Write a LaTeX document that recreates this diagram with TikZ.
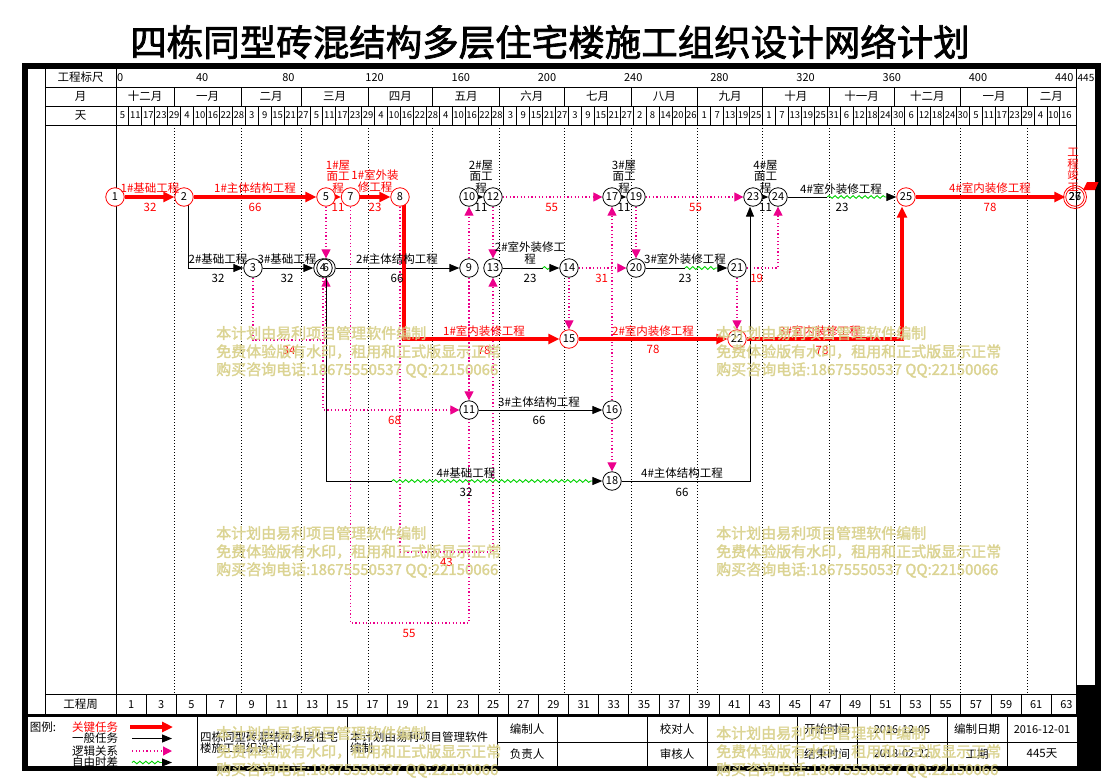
\documentclass[tikz,border=0pt]{standalone}
\usepackage{fontspec}
\setmainfont{Noto Sans CJK SC}
\newfontfamily\boldcjk{Noto Sans CJK SC}[FakeBold=2]
\usetikzlibrary{arrows.meta,decorations.pathmorphing}
\newcommand\fsz[1]{\fontsize{#1}{#1}\selectfont}
\definecolor{wm}{RGB}{216,208,138}
\definecolor{wgreen}{RGB}{0,210,0}
\pgfdeclarelayer{bg}
\pgfsetlayers{bg,main}
\begin{document}
\begin{tikzpicture}[x=1pt,y=-1pt,
  every node/.style={inner sep=0pt,font=\fsz{11.5}},
  nd/.style={circle,draw=black,fill=white,minimum size=18.5pt,line width=0.8pt,font=\fsz{11}},
  ndc/.style={nd,draw=red},
  task/.style={line width=1pt,black},
  tarr/.style={task,-{Triangle[length=10pt,width=8pt]}},
  crit/.style={line width=3.5pt,red},
  carr/.style={crit,-{Triangle[length=11pt,width=10pt]}},
  logic/.style={magenta,line width=1.2pt,dash pattern=on 1.2pt off 2.4pt},
  larr/.style={logic,-{Triangle[length=9pt,width=9pt]}},
  wavy/.style={wgreen,line width=0.9pt,decorate,decoration={snake,amplitude=1.4pt,segment length=6pt}},
  lbl/.style={font=\fsz{11.5},align=center},
  rl/.style={lbl,text=red},
  mgrid/.style={line width=0.9pt,dash pattern=on 1pt off 2pt},
  gl/.style={line width=0.9pt},
  wmk/.style={font={\boldcjk\fsz{15}},text=wm,anchor=west,opacity=0.9},
]
\useasboundingbox (0,0) rectangle (1101,777);

% ---------- title ----------
\node[font={\boldcjk\fsz{36.5}}] (title) at (550,42) {四栋同型砖混结构多层住宅楼施工组织设计网络计划};

% ---------- nodes ----------
\node[ndc] (n1) at (115,197) {1};
\node[ndc] (n2) at (184,197) {2};
\node[nd]  (n3) at (253,268) {3};
\node[nd]  (n4) at (323,268) {4};
\node[nd,fill=none] (n6) at (326,268) {6};
\node[ndc] (n5) at (326,197) {5};
\node[ndc] (n7) at (350.5,197) {7};
\node[ndc] (n8) at (400,197) {8};
\node[nd]  (n9) at (469,268) {9};
\node[nd]  (n10) at (469,197) {10};
\node[nd]  (n11) at (469,410) {11};
\node[nd]  (n12) at (493,197) {12};
\node[nd]  (n13) at (493,268) {13};
\node[nd]  (n14) at (569,268) {14};
\node[ndc] (n15) at (569,339) {15};
\node[nd]  (n16) at (612,410) {16};
\node[nd]  (n17) at (612,197) {17};
\node[nd]  (n18) at (612,481) {18};
\node[nd]  (n19) at (636,197) {19};
\node[nd]  (n20) at (636,268) {20};
\node[nd]  (n21) at (737,268) {21};
\node[ndc] (n22) at (737,339) {22};
\node[nd]  (n23) at (753,197) {23};
\node[nd]  (n24) at (778,197) {24};
\node[ndc] (n25) at (906,197) {25};
\node[ndc,fill=none] (n26) at (1075,197) {26};
\node[ndc,fill=none,minimum size=23pt] (n27) at (1075,197) {27};

% free coordinates
\coordinate (c36) at (290,340);
\coordinate (c710) at (420,623);
\coordinate (c813) at (440,552);
\coordinate (c13a) at (542.7,268);
\coordinate (c13b) at (550,268);
\coordinate (c20a) at (684.9,268);
\coordinate (c20b) at (718,268);
\coordinate (c24a) at (827.2,197);
\coordinate (c24b) at (887,197);
\coordinate (c4a) at (391.8,481);
\coordinate (c4b) at (593,481);

\begin{pgfonlayer}{bg}
% ---------- grid ----------
\draw[gl] (45,87) -- (1076,87);
\draw[gl] (45,106) -- (1076,106);
\draw[gl] (45,125) -- (1076,125);
\draw[gl] (45,694) -- (1076,694);
\draw[gl] (45,69) -- (45,715);
\draw[gl] (116,69) -- (116,715);
\draw[gl] (1076,69) -- (1076,715);
\foreach \d in {27,58,86,117,147,178,208,239,270,300,331,361,392,423}{
  \draw[gl] ({116+2.1551*\d},87) -- ({116+2.1551*\d},106);
  \draw[mgrid] ({116+2.1551*\d},125) -- ({116+2.1551*\d},694);
}
\foreach \k in {1,...,73} \draw[gl] ({116+12.9306*\k},106) -- ({116+12.9306*\k},125);
\foreach \k in {1,...,31} \draw[gl] ({116+30.1714*\k},694) -- ({116+30.1714*\k},715);

% ---------- logic (dotted) ----------
\draw[larr] (n5) -- (n6);
\draw[larr] (n3) |- (c36) -| (n6);
\draw[larr] (n4) |- (n11);
\draw[larr] (n7) |- (c710) -| (n10);
\draw[larr] (n8) |- (c813) -| (n13);
\draw[larr] (n9) -- (n11);
\draw[larr] (n12) -- (n13);
\draw[larr] (n12) -- (n17);
\draw[larr] (n14) -- (n15);
\draw[larr] (n14) -- (n20);
\draw[larr] (n16) -- (n17);
\draw[larr] (n16) -- (n18);
\draw[larr] (n19) -- (n20);
\draw[larr] (n19) -- (n23);
\draw[larr] (n21) -- (n22);
\draw[larr] (n21) -| (n24);

% ---------- ordinary tasks ----------
\draw[tarr] ([xshift=4pt]n2.center) |- (n3);
\draw[tarr] (n3) -- (n4);
\draw[tarr] (n6) -- (n9);
\draw[tarr] (n10) -- (n12);
\draw[tarr] (n17) -- (n19);
\draw[tarr] (n23) -- (n24);
\draw[tarr] (n11) -- (n16);
\draw[task] (n13) -- (c13a);
\draw[wavy] (c13a) -- (c13b);
\draw[tarr] (c13b) -- (n14);
\draw[task] (n20) -- (c20a);
\draw[wavy] (c20a) -- (c20b);
\draw[tarr] (c20b) -- (n21);
\draw[task] (n24) -- (c24a);
\draw[wavy] (c24a) -- (c24b);
\draw[tarr] (c24b) -- (n25);
\draw[task] (n6) |- (c4a);
\draw[wavy] (c4a) -- (c4b);
\draw[tarr] (c4b) -- (n18);
\draw[tarr] (n18) -| ([xshift=-3pt]n23.south);

% ---------- critical ----------
\draw[carr] (n1) -- (n2);
\draw[carr] (n2) -- (n5);
\draw[carr] (n5) -- (n7);
\draw[carr] (n7) -- (n8);
\draw[carr] ([xshift=4pt]n8.center) |- (n15);
\draw[carr] (n15) -- (n22);
\draw[carr] (n22) -| ([xshift=-4pt]n25.south);
\draw[carr] (n25) -- (n26);
\end{pgfonlayer}

% ---------- frame ----------
\fill[black] (22,63) rectangle (1101,69);
\fill[black] (22,63) rectangle (28,771);
\fill[black] (22,766) rectangle (1101,771);
\fill[black] (1095,63) rectangle (1101,771);
\fill[black] (1077,685) rectangle (1101,771);
\fill[black] (22,714) rectangle (1101,717);

% ---------- header texts ----------
\node (h1) at (80.5,77.5) {工程标尺};
\node (h2) at (80.5,96.5) {月};
\node (h3) at (80.5,115.5) {天};
\node (h4) at (80.5,704.5) {工程周};
\node[anchor=west,font=\fsz{11}] (s0) at (117,77.5) {0};
\foreach \v in {40,80,...,440} \node[font=\fsz{11}] (s\v) at ({116+2.1551*\v},77.5) {\v};
\node[font=\fsz{10}] (s445) at (1086,77.5) {445};
\foreach \c/\m [count=\i] in {13.5/十二月,42.5/一月,72/二月,101.5/三月,132/四月,162.5/五月,193/六月,223.5/七月,254.5/八月,285/九月,315.5/十月,346/十一月,376.5/十二月,407.5/一月,434/二月}
  \node (m\i) at ({116+2.1551*\c},96.5) {\m};
\foreach \lab [count=\k from 0] in {5,11,17,23,29,4,10,16,22,28,3,9,15,21,27,5,11,17,23,29,4,10,16,22,28,4,10,16,22,28,3,9,15,21,27,3,9,15,21,27,2,8,14,20,26,1,7,13,19,25,1,7,13,19,25,31,6,12,18,24,30,6,12,18,24,30,5,11,17,23,29,4,10,16}
  \node[font=\fsz{9.5}] (dl\k) at ({116+12.9306*\k+6.465},115.5) {\lab};
\foreach \k in {0,...,31}{
  \pgfmathtruncatemacro\w{2*\k+1}
  \node[font=\fsz{11}] (w\k) at ({116+30.1714*\k+15.09},704.5) {\w};
}

% ---------- activity labels ----------
\node[rl] (a1) at (150,188) {1\#基础工程};
\node[rl] (a1d) at (150,207.5) {32};
\node[rl] (a2) at (255,188) {1\#主体结构工程};
\node[rl] (a2d) at (255,207.5) {66};
\node[rl] (a3) at (338,176.5) {1\#屋\\面工\\程};
\node[rl] (a3d) at (338,207.5) {11};
\node[rl] (a4) at (375,181) {1\#室外装\\修工程};
\node[rl] (a4d) at (375,207.5) {23};
\node[lbl] (b1) at (218,259) {2\#基础工程};
\node[lbl] (b1d) at (218,278) {32};
\node[lbl] (b2) at (287,259) {3\#基础工程};
\node[lbl] (b2d) at (287,278) {32};
\node[lbl] (b3) at (397,259) {2\#主体结构工程};
\node[lbl] (b3d) at (397,278) {66};
\node[lbl] (b4) at (481,176.5) {2\#屋\\面工\\程};
\node[lbl] (b4d) at (481,207.5) {11};
\node[lbl] (b5) at (530,253) {2\#室外装修工\\程};
\node[lbl] (b5d) at (530,278) {23};
\node[lbl] (b6) at (624,176.5) {3\#屋\\面工\\程};
\node[lbl] (b6d) at (624,207.5) {11};
\node[lbl] (b7) at (685,259) {3\#室外装修工程};
\node[lbl] (b7d) at (685,278) {23};
\node[lbl] (b8) at (765.5,176.5) {4\#屋\\面工\\程};
\node[lbl] (b8d) at (765.5,207.5) {11};
\node[lbl] (b9) at (841,189) {4\#室外装修工程};
\node[lbl] (b9d) at (842,207.5) {23};
\node[rl] (r4) at (990,188) {4\#室内装修工程};
\node[rl] (r4d) at (990,207) {78};
\node[rl] (r1) at (484,331) {1\#室内装修工程};
\node[rl] (r1d) at (484,350) {78};
\node[rl] (r2) at (653,331) {2\#室内装修工程};
\node[rl] (r2d) at (653,349.5) {78};
\node[rl] (r3) at (820,331) {3\#室内装修工程};
\node[rl] (r3d) at (822,350) {78};
\node[lbl] (b10) at (539,402) {3\#主体结构工程};
\node[lbl] (b10d) at (539,420) {66};
\node[lbl] (b11) at (466,473) {4\#基础工程};
\node[lbl] (b11d) at (466,492) {32};
\node[lbl] (b12) at (682,473) {4\#主体结构工程};
\node[lbl] (b12d) at (682,492) {66};
\node[rl] (fin) at (1073,170) {工\\程\\竣\\工};
\fill[red] (1083,190) -- (1095,190) -- (1098.5,182) -- (1087,182) -- cycle;
% free float labels
\node[rl] (f1) at (551.7,207.5) {55};
\node[rl] (f2) at (695.5,207.5) {55};
\node[rl] (f3) at (601.7,278) {31};
\node[rl] (f4) at (756.7,278) {19};
\node[rl] (f5) at (289,350) {34};
\node[rl] (f6) at (394.6,420) {68};
\node[rl] (f7) at (446.4,562) {43};
\node[rl] (f8) at (409,633) {55};

% ---------- legend ----------
\node (lg0) at (43,727) {图例:};
\node[text=red] (lg1) at (95,727) {关键任务};
\node (lg2) at (95,738.5) {一般任务};
\node (lg3) at (95,751) {逻辑关系};
\node (lg4) at (95,762.5) {自由时差};
\coordinate (la1) at (130,727); \coordinate (la2) at (173,727);
\coordinate (lb1) at (132,738.5); \coordinate (lb2) at (172,738.5);
\coordinate (lc1) at (132,751); \coordinate (lc2) at (172,751);
\coordinate (ld1) at (132,762.5); \coordinate (ld2) at (162,762.5); \coordinate (ld3) at (172,762.5);
\draw[carr] (la1) -- (la2);
\draw[tarr] (lb1) -- (lb2);
\draw[larr] (lc1) -- (lc2);
\draw[wavy] (ld1) -- (ld2);
\draw[tarr] (ld2) -- (ld3);

% table lines
\foreach \x in {197.5,347,497.5,557,647,707.5,797.5,857,947,1007} \draw[gl] (\x,717) -- (\x,766);
\draw[gl] (497.5,742) -- (1077,742);
\node[anchor=west] (t1) at (200,736.7) {四栋同型砖混结构多层住宅};
\node[anchor=west] (t2) at (200,748.3) {楼施工组织设计};
\node[anchor=west] (t3) at (350,736.7) {本计划由易利项目管理软件};
\node[anchor=west] (t4) at (350,748.3) {编制};
\node (t5) at (527,729.5) {编制人};
\node (t6) at (527,754) {负责人};
\node (t7) at (677,729.5) {校对人};
\node (t8) at (677,754) {审核人};
\node (t9) at (827,729.5) {开始时间};
\node (t10) at (827,754) {结束时间};
\node[font=\fsz{11}] (t11) at (902,729.5) {2016-12-05};
\node[font=\fsz{11}] (t12) at (902,754) {2018-02-22};
\node (t13) at (977,729.5) {编制日期};
\node (t14) at (977,754) {工期};
\node[font=\fsz{11}] (t15) at (1042,729.5) {2016-12-01};
\node (t16) at (1042,754) {445天};

% ---------- watermarks ----------
\foreach \wx/\wy in {216/333,716/333,216/533,716/533,216/733,716/733}{
  \node[wmk] (wa\wx-\wy) at (\wx,\wy) {本计划由易利项目管理软件编制};
  \node[wmk] (wb\wx-\wy) at (\wx,\wy+18.5) {免费体验版有水印，租用和正式版显示正常};
  \node[wmk] (wc\wx-\wy) at (\wx,\wy+37) {购买咨询电话:18675550537 QQ:22150066};
}
\end{tikzpicture}
\end{document}
